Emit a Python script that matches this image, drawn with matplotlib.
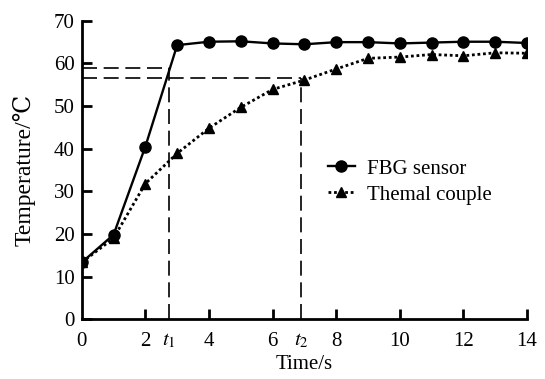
import matplotlib
matplotlib.use("Agg")
import matplotlib.pyplot as plt

plt.rcParams['font.family'] = ['Liberation Serif', 'DejaVu Serif']
plt.rcParams['mathtext.fontset'] = 'stix'

time = [0, 1, 2, 3, 4, 5, 6, 7, 8, 9, 10, 11, 12, 13, 14]
fbg = [13.3, 19.8, 40.5, 64.3, 65.1, 65.2, 64.7, 64.5, 65.0, 65.0, 64.7, 64.9, 65.1, 65.1, 64.8]
thermo = [13.3, 19.0, 31.8, 38.9, 44.8, 49.7, 53.9, 56.1, 58.7, 61.2, 61.5, 62.1, 61.8, 62.5, 62.4]
t1, y1 = 2.75, 59.0
t2, y2 = 6.9, 56.5
xticks = [0, 2, t1, 4, 6, t2, 8, 10, 12, 14]
xticklabels = ['0', '2', '$t_1$', '4', '6', '$t_2$', '8', '10', '12', '14']
yticks = [0, 10, 20, 30, 40, 50, 60, 70]

fig = plt.figure(figsize=(5.45, 3.79), dpi=100)
ax = fig.add_axes([0.150, 0.158, 0.817, 0.787])

dash = (0, (9, 4))
ax.plot([0, t1], [y1, y1], color='black', lw=1.2, linestyle=dash)
ax.plot([t1, t1], [0, y1], color='black', lw=1.2, linestyle=dash)
ax.plot([0, t2], [y2, y2], color='black', lw=1.2, linestyle=dash)
ax.plot([t2, t2], [0, y2], color='black', lw=1.2, linestyle=dash)

ax.plot(time, fbg, color='black', lw=1.7, marker='o', markersize=8, label='FBG sensor')
ax.plot(time, thermo, color='black', lw=2.0, linestyle=(0, (1.0, 1.0)), marker='^', markersize=7, label='Themal couple')

ax.set_xlim(0, 14)
ax.set_ylim(0, 70)
ax.set_xticks(xticks)
ax.set_xticklabels(xticklabels)
ax.set_yticks(yticks)
ax.spines['top'].set_visible(False)
ax.spines['right'].set_visible(False)
ax.spines['left'].set_linewidth(2)
ax.spines['bottom'].set_linewidth(2)
ax.tick_params(axis='both', direction='in', length=7, width=2, labelsize=15)
ax.tick_params(axis='x', pad=9)
ax.tick_params(axis='y', pad=5)
for i, tk in enumerate(ax.xaxis.get_major_ticks()):
    if i in (0, 2, 5):
        tk.tick1line.set_visible(False)

ax.set_xlabel('Time/s', fontsize=15, labelpad=3)
ax.set_ylabel('Temperature/℃', fontsize=17, labelpad=13)

leg = ax.legend(loc='center left', bbox_to_anchor=(0.51, 0.46), frameon=False,
                fontsize=15, handlelength=1.3, handletextpad=0.6, labelspacing=0.3)

fig.savefig('out.png', dpi=100)
